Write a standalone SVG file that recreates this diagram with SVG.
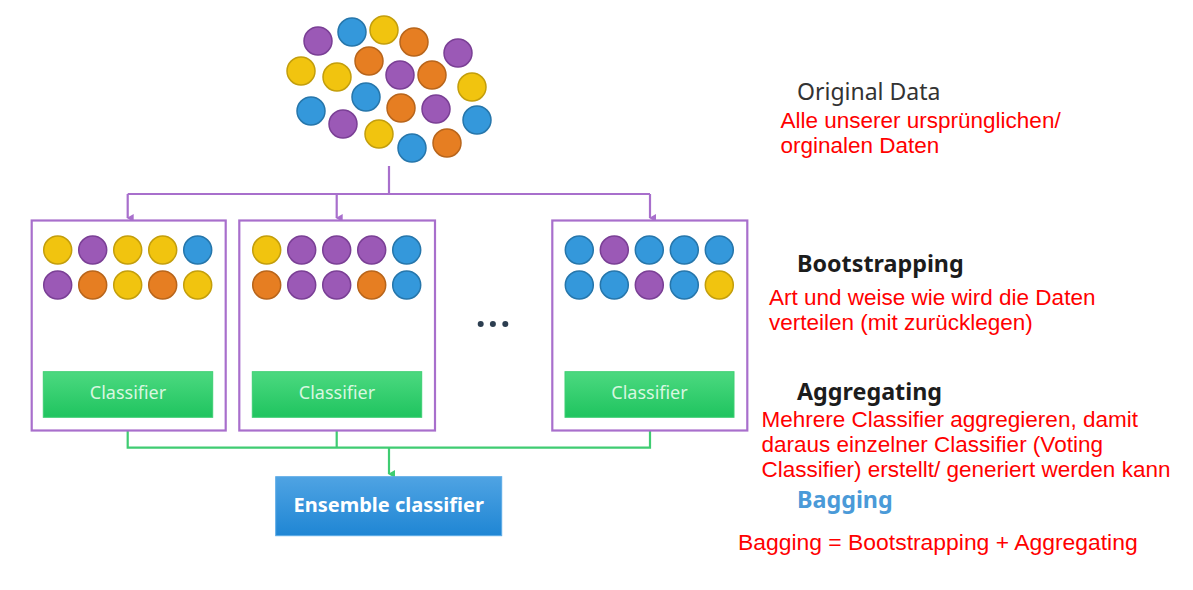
<svg xmlns="http://www.w3.org/2000/svg" width="1193" height="590" viewBox="0 0 1193 590">
<defs>
<linearGradient id="gGreen" x1="0" y1="0" x2="0" y2="1"><stop offset="0" stop-color="#4cd980"/><stop offset="1" stop-color="#1fc45f"/></linearGradient>
<linearGradient id="gBlue" x1="0" y1="0" x2="0" y2="1"><stop offset="0" stop-color="#4fa3e3"/><stop offset="1" stop-color="#1f86d4"/></linearGradient>
<marker id="aP" markerWidth="8" markerHeight="8" refX="4" refY="6" orient="auto-start-reverse" markerUnits="userSpaceOnUse"><path d="M0,0 L8,0 L4,7 z" fill="#a86fcc"/></marker>
<marker id="aG" markerWidth="8" markerHeight="8" refX="4" refY="6" orient="auto-start-reverse" markerUnits="userSpaceOnUse"><path d="M0,0 L8,0 L4,7 z" fill="#3fcc72"/></marker>
</defs>
<style>
.p{fill:#9b59b6;stroke:#7a3f95;stroke-width:1.5}
.b{fill:#3498db;stroke:#2676ab;stroke-width:1.5}
.y{fill:#f1c40f;stroke:#c39e0c;stroke-width:1.5}
.o{fill:#e67e22;stroke:#b8651b;stroke-width:1.5}
.box{fill:#fff;stroke:#a86fcc;stroke-width:2.2}
.cls{fill:url(#gGreen);stroke:#3dcf72;stroke-width:1}
.clst{font-family:"Noto Sans",sans-serif;font-size:18px;fill:#d8f7e0;text-anchor:middle}
.pl{fill:none;stroke:#a86fcc;stroke-width:2.2}
.gl{fill:none;stroke:#3fcc72;stroke-width:2.2}
.red{font-family:"Liberation Sans",Arial,sans-serif;font-size:22.5px;fill:#ff0000}
.big{font-size:22.9px}
.hd{font-family:"Noto Sans",sans-serif;font-size:23.3px;font-weight:bold;fill:#1c1c1c}
</style>
<g id="original-data">
<circle class="p" cx="318" cy="41" r="14"/>
<circle class="b" cx="352" cy="32" r="14"/>
<circle class="y" cx="384" cy="30" r="14"/>
<circle class="o" cx="414" cy="42" r="14"/>
<circle class="p" cx="458" cy="53" r="14"/>
<circle class="y" cx="301" cy="71" r="14"/>
<circle class="y" cx="337" cy="77" r="14"/>
<circle class="o" cx="369" cy="61" r="14"/>
<circle class="p" cx="400" cy="75" r="14"/>
<circle class="o" cx="432" cy="75" r="14"/>
<circle class="y" cx="472" cy="87" r="14"/>
<circle class="b" cx="366" cy="97" r="14"/>
<circle class="b" cx="311" cy="111" r="14"/>
<circle class="o" cx="401" cy="108" r="14"/>
<circle class="p" cx="436" cy="109" r="14"/>
<circle class="b" cx="477" cy="120" r="14"/>
<circle class="p" cx="343" cy="124" r="14"/>
<circle class="y" cx="379" cy="134" r="14"/>
<circle class="b" cx="412" cy="148" r="14"/>
<circle class="o" cx="447" cy="143" r="14"/>
</g>
<g id="connectors">
<path class="pl" d="M389,166 V194 M127.7,194 H650" />
<path class="pl" d="M127.7,194 V218" marker-end="url(#aP)"/>
<path class="pl" d="M336.7,194 V218" marker-end="url(#aP)"/>
<path class="pl" d="M650,194 V218" marker-end="url(#aP)"/>
<path class="gl" d="M127.7,417 V447.7 H650 V417 M336.7,417 V447.7"/>
<path class="gl" d="M389,447.7 V474" marker-end="url(#aG)"/>
</g>
<g id="sample-1">
<rect class="box" x="31.7" y="220.5" width="194" height="210"/>
<circle class="y" cx="57.7" cy="250" r="14"/><circle class="p" cx="92.7" cy="250" r="14"/><circle class="y" cx="127.7" cy="250" r="14"/><circle class="y" cx="162.7" cy="250" r="14"/><circle class="b" cx="197.7" cy="250" r="14"/>
<circle class="p" cx="57.7" cy="285" r="14"/><circle class="o" cx="92.7" cy="285" r="14"/><circle class="y" cx="127.7" cy="285" r="14"/><circle class="o" cx="162.7" cy="285" r="14"/><circle class="y" cx="197.7" cy="285" r="14"/>
<rect class="cls" x="43.3" y="371.7" width="169.4" height="45.6"/>
<text class="clst" x="128" y="398.5">Classifier</text>
</g>
<g id="sample-2">
<rect class="box" x="239.3" y="220.5" width="195.7" height="210"/>
<circle class="y" cx="266.7" cy="250" r="14"/><circle class="p" cx="301.7" cy="250" r="14"/><circle class="p" cx="336.7" cy="250" r="14"/><circle class="p" cx="371.7" cy="250" r="14"/><circle class="b" cx="406.7" cy="250" r="14"/>
<circle class="o" cx="266.7" cy="285" r="14"/><circle class="p" cx="301.7" cy="285" r="14"/><circle class="p" cx="336.7" cy="285" r="14"/><circle class="o" cx="371.7" cy="285" r="14"/><circle class="b" cx="406.7" cy="285" r="14"/>
<rect class="cls" x="252.3" y="371.7" width="169.4" height="45.6"/>
<text class="clst" x="337" y="398.5">Classifier</text>
</g>
<g id="ellipsis" fill="#2c3e50">
<circle cx="480.7" cy="324" r="3"/><circle cx="492.9" cy="324" r="3"/><circle cx="505.3" cy="324" r="3"/>
</g>
<g id="sample-n">
<rect class="box" x="552.3" y="220.5" width="195" height="210"/>
<circle class="b" cx="579.3" cy="250" r="14"/><circle class="p" cx="614.3" cy="250" r="14"/><circle class="b" cx="649.3" cy="250" r="14"/><circle class="b" cx="684.3" cy="250" r="14"/><circle class="b" cx="719.3" cy="250" r="14"/>
<circle class="b" cx="579.3" cy="285" r="14"/><circle class="b" cx="614.3" cy="285" r="14"/><circle class="p" cx="649.3" cy="285" r="14"/><circle class="b" cx="684.3" cy="285" r="14"/><circle class="y" cx="719.3" cy="285" r="14"/>
<rect class="cls" x="565" y="371.7" width="169" height="45.6"/>
<text class="clst" x="649.5" y="398.5">Classifier</text>
</g>
<g id="ensemble">
<rect x="275.7" y="476.7" width="226" height="59" fill="url(#gBlue)" stroke="#5aaae6" stroke-width="1"/>
<text x="388.7" y="511.5" font-family="Noto Sans, sans-serif" font-size="20px" font-weight="bold" fill="#ffffff" text-anchor="middle">Ensemble classifier</text>
</g>
<g id="labels">
<text x="797" y="100" font-family="Noto Sans, sans-serif" font-size="23px" fill="#333333">Original Data</text>
<text class="red" x="780.5" y="127.5">Alle unserer ursprünglichen/</text>
<text class="red" x="780.5" y="152.5">orginalen Daten</text>
<text class="hd" x="797" y="271.5">Bootstrapping</text>
<text class="red" x="769" y="305">Art und weise wie wird die Daten</text>
<text class="red" x="769" y="329.5">verteilen (mit zurücklegen)</text>
<text class="hd" x="797" y="400">Aggregating</text>
<text class="red" x="761.5" y="426.7">Mehrere Classifier aggregieren, damit</text>
<text class="red" x="761.5" y="451.7">daraus einzelner Classifier (Voting</text>
<text class="red" x="761.5" y="476.7">Classifier) erstellt/ generiert werden kann</text>
<text x="797" y="508.3" font-family="Noto Sans, sans-serif" font-size="23.3px" font-weight="bold" fill="#4a9ad8">Bagging</text>
<text class="red big" x="738" y="550">Bagging = Bootstrapping + Aggregating</text>
</g>
</svg>
